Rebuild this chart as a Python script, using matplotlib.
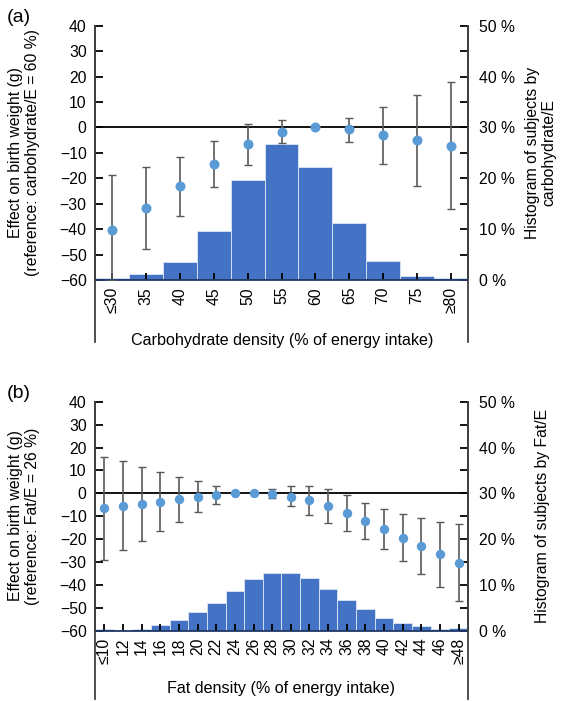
import matplotlib
matplotlib.use("Agg")
import matplotlib.pyplot as plt
import numpy as np

plt.rcParams['font.family'] = ['Liberation Sans', 'DejaVu Sans']

# ---------------- data ----------------
carb_labels = ["≤30", "35", "40", "45", "50", "55", "60", "65", "70", "75", "≥80"]
carb_effect = [-40.5, -31.8, -23.1, -14.4, -6.7, -1.8, 0.0, -0.8, -3.0, -5.1, -7.2]
carb_upper = [-18.9, -15.5, -11.5, -5.5, 1.3, 2.8, 0.0, 3.7, 8.1, 12.8, 17.7]
carb_lower = [-60.0, -48.0, -34.7, -23.3, -14.9, -6.0, 0.0, -5.6, -14.3, -23.1, -32.1]
carb_hist = [0.45, 1.1, 3.6, 9.6, 19.6, 26.8, 22.3, 11.3, 3.8, 0.85, 0.4]

fat_labels = ["≤10", "12", "14", "16", "18", "20", "22", "24", "26", "28",
              "30", "32", "34", "36", "38", "40", "42", "44", "46", "≥48"]
fat_effect = [-6.6, -5.5, -4.7, -3.8, -2.6, -1.5, -0.7, 0.0, 0.0, -0.3,
              -1.5, -3.1, -5.5, -8.6, -12.1, -15.7, -19.4, -23.0, -26.6, -30.4]
fat_upper = [15.9, 14.0, 11.6, 9.5, 7.3, 5.2, 3.3, 0.0, 0.0, 1.9,
             3.1, 3.3, 2.0, -0.9, -4.1, -6.7, -9.0, -10.6, -12.4, -13.5]
fat_lower = [-29.1, -24.9, -20.7, -16.4, -12.4, -8.2, -4.5, 0.0, 0.0, -2.2,
             -5.5, -9.6, -13.1, -16.4, -20.1, -24.5, -29.7, -35.1, -41.0, -47.0]
fat_hist = [0.3, 0.2, 0.45, 1.2, 2.3, 4.0, 6.0, 8.7, 11.2, 12.7,
            12.6, 11.4, 9.2, 6.8, 4.8, 2.8, 1.7, 0.95, 0.45, 0.6]

left_ticks = [-60, -50, -40, -30, -20, -10, 0, 10, 20, 30, 40]
right_ticks = [0, 10, 20, 30, 40, 50]

BAR = '#4472C4'
PT = '#5B9BD5'
ERR = '#595959'
SPINE = '#404040'
FS = 11.3

W, H = 561, 701
fig = plt.figure(figsize=(W / 100, H / 100), dpi=100)


def rect(x0, y0, x1, y1):
    return [x0 / W, 1 - y1 / H, (x1 - x0) / W, (y1 - y0) / H]


def panel(box, labels, effect, upper, lower, hist, ext, msize, capsize):
    ax = fig.add_axes(box)
    ax2 = ax.twinx()
    n = len(labels)
    x = np.arange(n)
    ax2.bar(x, hist, width=1.0, color=BAR, edgecolor='#DCE6F5',
            linewidth=0.6, zorder=1)
    ax2.set_ylim(0, 50)
    ax2.set_yticks(right_ticks)
    ax2.set_yticklabels([f"{t} %" for t in right_ticks], fontsize=FS)
    ax2.set_yticks([5, 15, 25, 35, 45], minor=True)
    ax2.tick_params(axis='y', which='both', direction='in', length=6,
                    width=1.3, color='black', pad=8)

    ax.set_zorder(ax2.get_zorder() + 1)
    ax.patch.set_visible(False)
    eff = np.array(effect)
    up = np.array(upper)
    lo = np.array(lower)
    has = (up - lo) > 0.01
    ax.errorbar(x[has], eff[has], yerr=[eff[has] - lo[has], up[has] - eff[has]],
                fmt='none', ecolor=ERR, elinewidth=1.2, capsize=capsize,
                capthick=1.0, zorder=3)
    ax.axhline(0, color='black', lw=1.3, zorder=2)
    ax.plot(x, eff, 'o', color=PT, markersize=msize, markeredgewidth=0,
            zorder=4)
    ax.set_xlim(-0.5, n - 0.5)
    ax.set_ylim(-60, 40)
    ax.set_yticks(left_ticks)
    ax.set_yticklabels([str(t).replace('-', '\u2212') for t in left_ticks],
                       fontsize=FS)
    ax.tick_params(axis='y', direction='in', length=6, width=1.3,
                   color='black', pad=6)
    ax.set_xticks(x)
    ax.set_xticklabels(labels, rotation=90, fontsize=FS)
    ax.tick_params(axis='x', direction='in', length=5, width=1.3,
                   color='black', pad=5)
    for a in (ax, ax2):
        a.spines['top'].set_visible(False)
        a.spines['left'].set_color(SPINE)
        a.spines['right'].set_color(SPINE)
        a.spines['left'].set_linewidth(1.3)
        a.spines['right'].set_linewidth(1.3)
        a.spines['bottom'].set_color('#1F3864')
        a.spines['bottom'].set_linewidth(1.3)
    ax2.spines['bottom'].set_visible(False)
    # extension of vertical frame lines below the axis
    for xx in (0, 1):
        ax.plot([xx, xx], [0, ext], transform=ax.transAxes, color=SPINE,
                lw=1.3, clip_on=False, zorder=5)
    return ax, ax2


axa, axa2 = panel(rect(95, 25.7, 468, 280), carb_labels, carb_effect,
                  carb_upper, carb_lower, carb_hist, -0.244, 7.2, 3)
axb, axb2 = panel(rect(95, 401.7, 468, 630.7), fat_labels, fat_effect,
                  fat_upper, fat_lower, fat_hist, -0.30, 6.8, 3)

fig.text(282 / W, 1 - 341 / H, "Carbohydrate density (% of energy intake)",
         fontsize=FS + 0.3, ha='center', va='center')
fig.text(281 / W, 1 - 688 / H, "Fat density (% of energy intake)",
         fontsize=FS + 0.3, ha='center', va='center')

fig.text(7 / W, 1 - 18 / H, "(a)", fontsize=14, ha='left', va='center')
fig.text(7 / W, 1 - 393 / H, "(b)", fontsize=14, ha='left', va='center')

fig.text(24 / W, 1 - 153 / H,
         "Effect on birth weight (g)\n(reference: carbohydrate/E = 60 %)",
         rotation=90, ha='center', va='center', fontsize=FS,
         multialignment='center', linespacing=1.1)
fig.text(24 / W, 1 - 516 / H,
         "Effect on birth weight (g)\n(reference: Fat/E = 26 %)",
         rotation=90, ha='center', va='center', fontsize=FS,
         multialignment='center', linespacing=1.1)
fig.text(541 / W, 1 - 153 / H,
         "Histogram of subjects by\ncarbohydrate/E",
         rotation=90, ha='center', va='center', fontsize=FS,
         multialignment='center', linespacing=1.1)
fig.text(543 / W, 1 - 516 / H,
         "Histogram of subjects by Fat/E",
         rotation=90, ha='center', va='center', fontsize=FS)

fig.savefig("out.png", dpi=100)
